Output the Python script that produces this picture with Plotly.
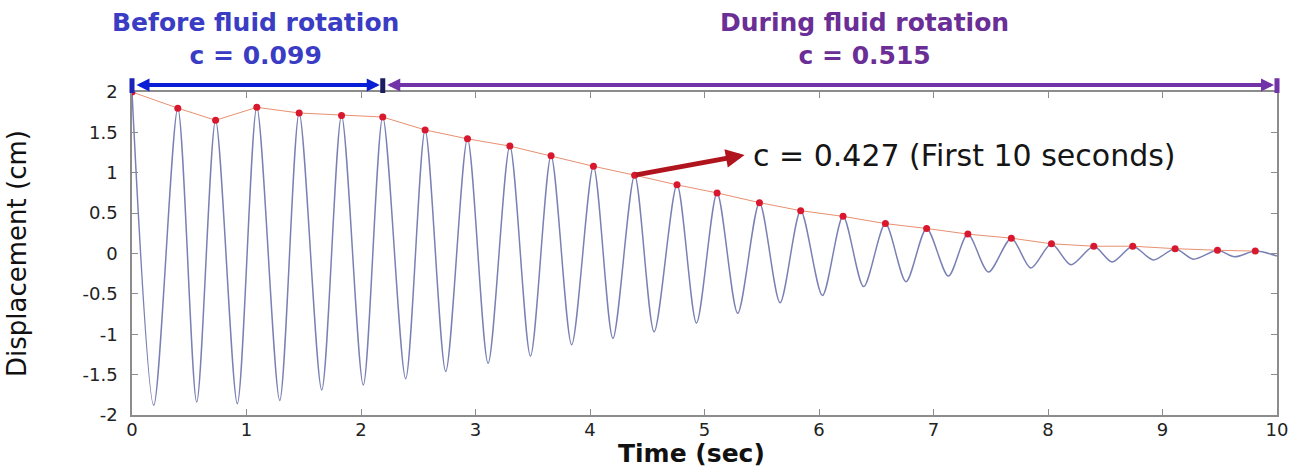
import plotly.graph_objects as go

# ---- data ----
PEAK_T = [0.00, 0.40, 0.73, 1.09, 1.46, 1.83, 2.19, 2.56, 2.93, 3.30, 3.66, 4.03, 4.39, 4.76,
          5.11, 5.48, 5.84, 6.21, 6.58, 6.94, 7.30, 7.68, 8.03, 8.40, 8.74, 9.11, 9.48, 9.81]
PEAK_Y = [2.00, 1.80, 1.65, 1.81, 1.74, 1.71, 1.69, 1.53, 1.42, 1.33, 1.21, 1.08, 0.97, 0.85,
          0.75, 0.63, 0.53, 0.46, 0.37, 0.31, 0.24, 0.19, 0.12, 0.09, 0.09, 0.06, 0.04, 0.03]
TROUGH_T = [0.19, 0.565, 0.92, 1.29, 1.657, 2.02, 2.39, 2.74, 3.11, 3.48, 3.84, 4.20, 4.56, 4.93,
            5.29, 5.66, 6.03, 6.39, 6.76, 7.13, 7.48, 7.85, 8.20, 8.56, 8.92, 9.27, 9.63]
TROUGH_Y = [-1.88, -1.84, -1.86, -1.82, -1.69, -1.63, -1.55, -1.46, -1.36, -1.27, -1.13, -1.05, -0.97, -0.86,
            -0.74, -0.61, -0.52, -0.41, -0.35, -0.28, -0.23, -0.18, -0.14, -0.105, -0.08, -0.07, -0.04]
END_T = [10.0]
END_Y = [-0.03]

X_TICKS = [0, 1, 2, 3, 4, 5, 6, 7, 8, 9, 10]
X_LABELS = ["0", "1", "2", "3", "4", "5", "6", "7", "8", "9", "10"]
Y_TICKS = [2, 1.5, 1, 0.5, 0, -0.5, -1, -1.5, -2]
Y_LABELS = ["2", "1.5", "1", "0.5", "0", "-0.5", "-1", "-1.5", "-2"]

T_START = 0.0
T_SWITCH = 2.19
T_END = 10.0

C_BEFORE = "c = 0.099"
C_DURING = "c = 0.515"
C_FIRST10 = "c = 0.427 (First 10 seconds)"
ARROW_TAIL = (4.39, 0.97)
ARROW_HEAD = (5.35, 1.22)

# ---- build signal by merging extrema in time order ----
pts = sorted(list(zip(PEAK_T, PEAK_Y)) + list(zip(TROUGH_T, TROUGH_Y)) + list(zip(END_T, END_Y)))
sig_t = [p[0] for p in pts]
sig_y = [p[1] for p in pts]

FONT = "DejaVu Sans"
BLUE_TXT = "#3a3cc4"
PURPLE_TXT = "#6a2e96"
BLUE_ARW = "#0a1ed6"
PURPLE_ARW = "#7232a8"

# vertical placement (fraction of the y domain) of the brackets above the plot
BRACKET_DOM = 1.022
BAR_LO, BAR_HI = 0.997, 1.047

fig = go.Figure()
fig.add_trace(go.Scatter(
    x=sig_t, y=sig_y, mode="lines",
    line=dict(color="#7a80b4", width=1.5, shape="spline", smoothing=0.8),
    hoverinfo="skip", showlegend=False))
fig.add_trace(go.Scatter(
    x=PEAK_T, y=PEAK_Y, mode="lines+markers",
    line=dict(color="#e89070", width=1),
    marker=dict(color="#d8182e", size=7),
    hoverinfo="skip", showlegend=False))

ann = []
# bracket arrows
for (t0, t1, col) in [(T_START, T_SWITCH, BLUE_ARW), (T_SWITCH, T_END, PURPLE_ARW)]:
    ann.append(dict(x=t1, y=BRACKET_DOM, ax=t0, ay=BRACKET_DOM, xref="x", yref="y domain",
                    axref="x", ayref="y domain", text="", showarrow=True, arrowside="end+start",
                    arrowhead=2, startarrowhead=2, arrowsize=0.65, startarrowsize=0.65,
                    arrowwidth=4, arrowcolor=col, standoff=3, startstandoff=3))
# end bars of the brackets
for (t, col) in [(T_START, "#1a22b8"), (T_SWITCH, "#1c1c60"), (T_END, PURPLE_ARW)]:
    ann.append(dict(x=t, y=BAR_LO, ax=t, ay=BAR_HI, xref="x", yref="y domain",
                    axref="x", ayref="y domain", text="", showarrow=True, arrowhead=0,
                    arrowwidth=5, arrowcolor=col, standoff=0, startstandoff=0))
# red arrow
ann.append(dict(x=ARROW_HEAD[0], y=ARROW_HEAD[1], ax=ARROW_TAIL[0], ay=ARROW_TAIL[1],
                xref="x", yref="y", axref="x", ayref="y", text="", showarrow=True,
                arrowhead=2, arrowsize=0.75, arrowwidth=5, arrowcolor="#b0141c", standoff=0))
ann.append(dict(x=5.41, y=1.21, xref="x", yref="y", text=C_FIRST10, showarrow=False,
                xanchor="left", yanchor="middle",
                font=dict(family=FONT, size=30, color="#151515")))
# headings
ann.append(dict(x=1.08, y=1.164, xref="x", yref="y domain",
                text="<b>Before fluid rotation</b><br><b>" + C_BEFORE + "</b>",
                showarrow=False, xanchor="center", yanchor="middle", align="center",
                font=dict(family=FONT, size=25, color=BLUE_TXT)))
ann.append(dict(x=6.40, y=1.164, xref="x", yref="y domain",
                text="<b>During fluid rotation</b><br><b>" + C_DURING + "</b>",
                showarrow=False, xanchor="center", yanchor="middle", align="center",
                font=dict(family=FONT, size=25, color=PURPLE_TXT)))
# x-axis title
ann.append(dict(x=4.89, y=-0.171, xref="x", yref="y domain", text="<b>Time (sec)</b>",
                showarrow=False, xanchor="center", yanchor="bottom",
                font=dict(family=FONT, size=25, color="#111111")))

axis_common = dict(showline=True, linecolor="#8c8c8c", linewidth=1.5, mirror="ticks",
                   ticks="inside", ticklen=6, tickcolor="#8c8c8c", tickwidth=1.2,
                   showgrid=False, zeroline=False, automargin=False,
                   tickfont=dict(family=FONT, size=18, color="#222222"))

fig.update_layout(
    width=1301, height=472,
    margin=dict(l=132, r=24, t=92, b=57, autoexpand=False),
    paper_bgcolor="white", plot_bgcolor="white",
    annotations=ann,
    xaxis=dict(range=[0, 10], tickmode="array", tickvals=X_TICKS, ticktext=X_LABELS,
               ticklabelstandoff=-2, **axis_common),
    yaxis=dict(range=[-2, 2], tickmode="array", tickvals=Y_TICKS, ticktext=Y_LABELS,
               ticklabelstandoff=9,
               title=dict(text="Displacement (cm)", standoff=48,
                          font=dict(family=FONT, size=26, color="#111111")),
               **axis_common),
)

fig.write_html("out.html")
